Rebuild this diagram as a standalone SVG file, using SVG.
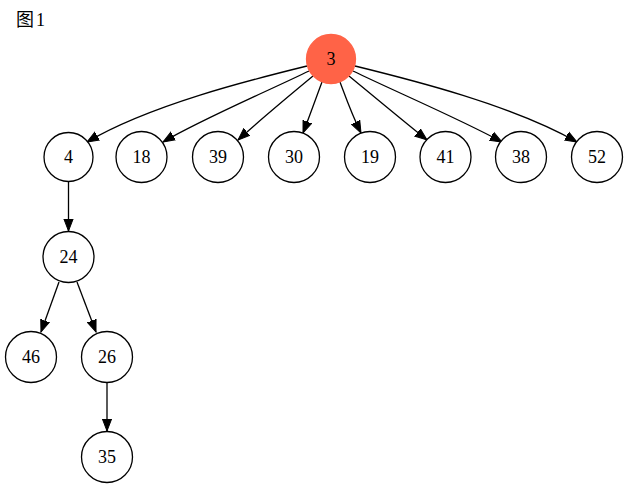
<svg xmlns="http://www.w3.org/2000/svg" width="629" height="489" viewBox="0 0 629 489">
<style>
.n circle{fill:#fff;stroke:#000;stroke-width:1.3}
.n text{font-family:"Liberation Serif",serif;font-size:18px;text-anchor:middle}
.e path{fill:none;stroke:#000;stroke-width:1.3;marker-end:url(#ah)}
.t{font-family:"Liberation Serif","Noto Sans CJK SC",serif;font-size:18px}
</style>
<defs>
<marker id="ah" markerUnits="userSpaceOnUse" markerWidth="14" markerHeight="12" viewBox="0 -6 14 12" refX="12" refY="0" orient="auto">
<path d="M0,-4.6 L12,0 L0,4.6 Z" fill="#000" stroke="#000" stroke-width="1"/>
</marker>
</defs>
<rect width="629" height="489" fill="#fff"/>
<text class="t" x="16" y="26">图<tspan dx="2">1</tspan></text>
<g class="e" id="edges">
<path d="M307,66 C250,80 150,105 87,142"/>
<path d="M309,71 C270,90 200,120 163,142"/>
<path d="M313,76 C290,95 260,120 238,140"/>
<path d="M322,82 C316,98 310,115 303,133"/>
<path d="M340,82 C346,98 352,115 361,133"/>
<path d="M349,76 C372,95 402,120 427,140"/>
<path d="M353,71 C392,90 462,120 502,142"/>
<path d="M355,66 C412,80 512,105 577,142"/>
<path d="M68.5,182 L68.5,231"/>
<path d="M59,282 L41,332"/>
<path d="M77,282 L96,332"/>
<path d="M107,382 L107,431"/>
</g>
<g class="n" id="n3"><circle cx="331" cy="59" r="24.5" style="fill:#ff6347;stroke:#ff6347"/><text x="331" y="65.3">3</text></g>
<g class="n" id="n4"><circle cx="68.5" cy="157" r="24.5"/><text x="68.5" y="163.3">4</text></g>
<g class="n" id="n18"><circle cx="141.5" cy="157" r="25.5"/><text x="141.5" y="163.3">18</text></g>
<g class="n" id="n39"><circle cx="218" cy="157" r="25.5"/><text x="218" y="163.3">39</text></g>
<g class="n" id="n30"><circle cx="294" cy="157" r="25.5"/><text x="294" y="163.3">30</text></g>
<g class="n" id="n19"><circle cx="370" cy="157" r="25.5"/><text x="370" y="163.3">19</text></g>
<g class="n" id="n41"><circle cx="445.5" cy="157" r="25.5"/><text x="445.5" y="163.3">41</text></g>
<g class="n" id="n38"><circle cx="521" cy="157" r="25.5"/><text x="521" y="163.3">38</text></g>
<g class="n" id="n52"><circle cx="597" cy="157" r="25.5"/><text x="597" y="163.3">52</text></g>
<g class="n" id="n24"><circle cx="68.5" cy="257" r="25.5"/><text x="68.5" y="263.3">24</text></g>
<g class="n" id="n46"><circle cx="31" cy="357" r="25.5"/><text x="31" y="363.3">46</text></g>
<g class="n" id="n26"><circle cx="107" cy="357" r="25.5"/><text x="107" y="363.3">26</text></g>
<g class="n" id="n35"><circle cx="107" cy="457" r="25.5"/><text x="107" y="463.3">35</text></g>
</svg>
